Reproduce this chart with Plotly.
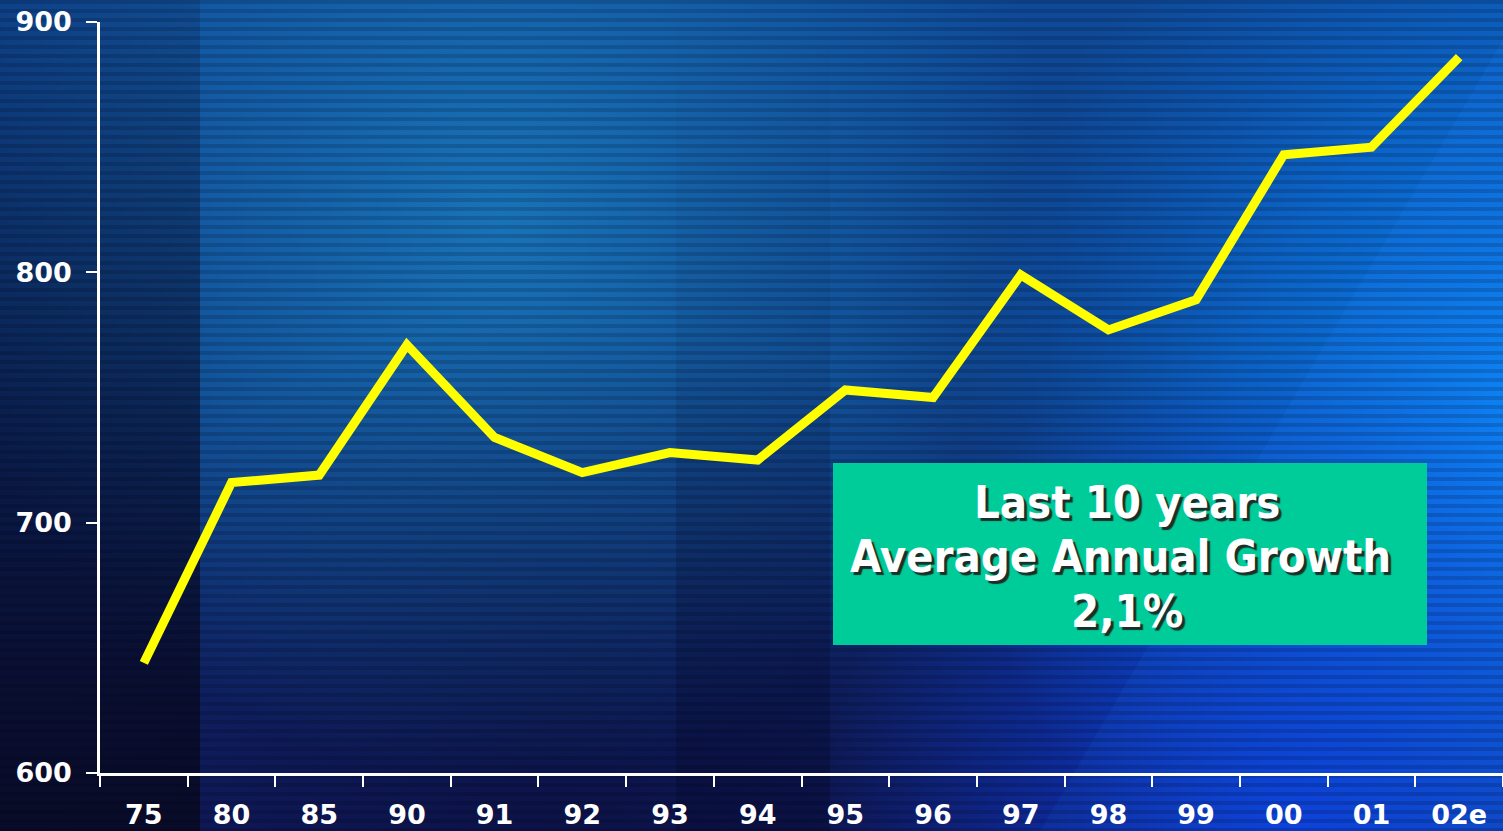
import base64
import plotly.graph_objects as go

# Production series (thousand units), 1975 - 2002 estimate
years = ["75", "80", "85", "90", "91", "92", "93", "94", "95", "96",
         "97", "98", "99", "00", "01", "02e"]
values = [644, 716, 719, 771, 734, 720, 728, 725, 753, 750,
          799, 777, 789, 847, 850, 886]

y_ticks = [600, 700, 800, 900]
note_lines = ["Last 10 years", "Average Annual Growth ", "2,1%"]

W, H = 1503, 831

# Slide-style backdrop: blue gradients plus fine horizontal scan lines
bg_svg = f"""<svg xmlns='http://www.w3.org/2000/svg' width='{W}' height='{H}' viewBox='0 0 {W} {H}' preserveAspectRatio='none'>
<defs>
 <linearGradient id='base' x1='0' y1='0' x2='0' y2='1'>
  <stop offset='0' stop-color='#0f4a98'/>
  <stop offset='0.45' stop-color='#0e4088'/>
  <stop offset='0.8' stop-color='#0f2468'/>
  <stop offset='1' stop-color='#101a5c'/>
 </linearGradient>
 <radialGradient id='glowTop' cx='500' cy='220' r='560' gradientUnits='userSpaceOnUse'>
  <stop offset='0' stop-color='#1a78bc' stop-opacity='0.9'/>
  <stop offset='1' stop-color='#1a78bc' stop-opacity='0'/>
 </radialGradient>
 <radialGradient id='glowRight' cx='1580' cy='420' r='620' gradientUnits='userSpaceOnUse'>
  <stop offset='0' stop-color='#0a8cff' stop-opacity='1'/>
  <stop offset='0.55' stop-color='#0a78ea' stop-opacity='0.6'/>
  <stop offset='1' stop-color='#0a6ad8' stop-opacity='0'/>
 </radialGradient>
 <radialGradient id='glowLow' cx='1300' cy='830' r='480' gradientUnits='userSpaceOnUse'>
  <stop offset='0' stop-color='#0a3ce0' stop-opacity='0.9'/>
  <stop offset='1' stop-color='#0a3ce0' stop-opacity='0'/>
 </radialGradient>
 <linearGradient id='streak' x1='1050' y1='830' x2='1503' y2='600' gradientUnits='userSpaceOnUse'>
  <stop offset='0' stop-color='#1a6cf0' stop-opacity='0.1'/>
  <stop offset='1' stop-color='#1a80ff' stop-opacity='0.18'/>
 </linearGradient>
 <linearGradient id='leftShade' x1='0' y1='0' x2='0' y2='1'>
  <stop offset='0' stop-color='#050a2a' stop-opacity='0.15'/>
  <stop offset='0.5' stop-color='#070a28' stop-opacity='0.6'/>
  <stop offset='1' stop-color='#080a22' stop-opacity='0.9'/>
 </linearGradient>
 <linearGradient id='bandShade' x1='0' y1='0' x2='0' y2='1'>
  <stop offset='0' stop-color='#060a30' stop-opacity='0'/>
  <stop offset='0.4' stop-color='#060a30' stop-opacity='0.08'/>
  <stop offset='1' stop-color='#060a30' stop-opacity='0.45'/>
 </linearGradient>
 <radialGradient id='lowShade' cx='560' cy='831' r='520' gradientUnits='userSpaceOnUse'>
  <stop offset='0' stop-color='#080a30' stop-opacity='0.5'/>
  <stop offset='1' stop-color='#080a30' stop-opacity='0'/>
 </radialGradient>
 <pattern id='scan' x='0' y='0' width='40' height='9' patternUnits='userSpaceOnUse'>
  <rect x='0' y='0' width='40' height='4' fill='#000010' fill-opacity='0.16'/>
 </pattern>
</defs>
<rect width='{W}' height='{H}' fill='url(#base)'/>
<rect width='{W}' height='{H}' fill='url(#glowTop)'/>
<rect width='{W}' height='{H}' fill='url(#lowShade)'/>
<rect width='{W}' height='{H}' fill='url(#glowRight)'/>
<rect width='{W}' height='{H}' fill='url(#glowLow)'/>
<polygon points='1040,831 1503,40 1503,831' fill='url(#streak)'/>
<rect x='0' y='0' width='200' height='{H}' fill='url(#leftShade)'/>
<rect x='676' y='0' width='154' height='{H}' fill='url(#bandShade)'/>
<rect width='{W}' height='{H}' fill='url(#scan)'/>
</svg>"""
bg_uri = "data:image/svg+xml;base64," + base64.b64encode(bg_svg.encode()).decode()

fig = go.Figure()

fig.add_trace(go.Scatter(
    x=years, y=values, mode="lines",
    line=dict(color="#ffff00", width=9),
    hoverinfo="skip", showlegend=False,
))

tick_font = dict(family="DejaVu Sans", size=27, color="white", weight="bold")

fig.update_layout(
    width=W, height=H,
    margin=dict(l=0, r=0, t=0, b=0, pad=0, autoexpand=False),
    paper_bgcolor="#0d2a6e",
    plot_bgcolor="rgba(0,0,0,0)",
    showlegend=False,
    images=[dict(source=bg_uri, xref="paper", yref="paper", x=0, y=1,
                 sizex=1, sizey=1, xanchor="left", yanchor="top",
                 sizing="stretch", layer="below")],
    xaxis=dict(
        domain=[100 / W, 1], type="category", range=[-0.5, len(years) - 0.5],
        showgrid=False, zeroline=False, automargin=False,
        showline=True, linecolor="white", linewidth=2.5,
        ticks="outside", tickson="boundaries", ticklen=11, tickwidth=2,
        tickcolor="white", tickfont=tick_font, ticklabelstandoff=16,
    ),
    yaxis=dict(
        domain=[58 / H, 809 / H], range=[600, 900],
        tickvals=y_ticks, showgrid=False, zeroline=False, automargin=False,
        showline=True, linecolor="white", linewidth=2.5,
        ticks="outside", ticklen=11, tickwidth=2, tickcolor="white",
        tickfont=tick_font, ticklabelstandoff=9,
    ),
)

# Growth call-out box
fig.add_shape(type="rect", xref="paper", yref="paper",
              x0=833 / W, x1=1427 / W, y0=1 - 645 / H, y1=1 - 463 / H,
              fillcolor="#00cc99", line=dict(width=0), layer="above")

note_font = dict(family="DejaVu Sans Condensed, DejaVu Sans", size=45,
                 color="white", weight="bold",
                 shadow="3px 3px 1px rgba(30,30,30,0.9)")
for text, yc in zip(note_lines, [502, 556, 611]):
    fig.add_annotation(text=text, xref="paper", yref="paper",
                       x=1127 / W, y=1 - yc / H, xanchor="center",
                       yanchor="middle", showarrow=False, font=note_font)

fig.write_html("out.html")
